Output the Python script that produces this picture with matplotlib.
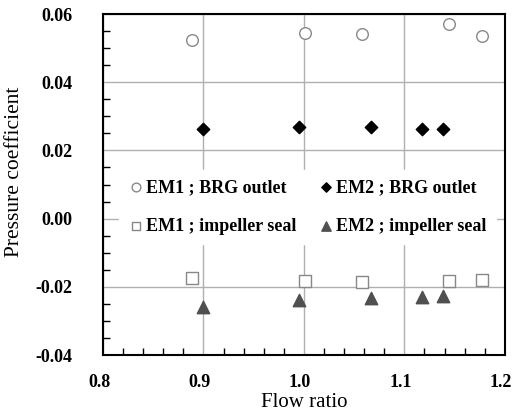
import matplotlib.pyplot as plt
import matplotlib.transforms as mtransforms
import numpy as np
from matplotlib.ticker import MultipleLocator, FuncFormatter

# EM1 ; BRG outlet (open circles)
em1_brg_x = [0.889, 1.001, 1.058, 1.144, 1.177]
em1_brg_y = [0.0525, 0.0545, 0.0541, 0.0571, 0.0535]

# EM2 ; BRG outlet (filled diamonds)
em2_brg_x = [0.900, 0.995, 1.067, 1.118, 1.138]
em2_brg_y = [0.0264, 0.0268, 0.0268, 0.0262, 0.0264]

# EM1 ; impeller seal (open squares)
em1_seal_x = [0.889, 1.001, 1.058, 1.144, 1.177]
em1_seal_y = [-0.0174, -0.0182, -0.0185, -0.0182, -0.0179]

# EM2 ; impeller seal (filled triangles)
em2_seal_x = [0.900, 0.995, 1.067, 1.118, 1.138]
em2_seal_y = [-0.0259, -0.0239, -0.0234, -0.0229, -0.0226]

plt.rcParams["font.family"] = ["Liberation Serif", "DejaVu Serif"]
plt.rcParams["font.weight"] = "bold"

fig = plt.figure(figsize=(5.13, 4.13), dpi=100)
ax = fig.add_axes([0.2008, 0.1404, 0.7832, 0.8256])

h1 = ax.scatter(em1_brg_x, em1_brg_y, marker="o", s=70, facecolors="white",
                edgecolors="#888888", linewidths=1.0, label="EM1 ; BRG outlet", zorder=3)
h2 = ax.scatter(em2_brg_x, em2_brg_y, marker="D", s=40, color="black",
                label="EM2 ; BRG outlet", zorder=3)
h3 = ax.scatter(em1_seal_x, em1_seal_y, marker="s", s=70, facecolors="white",
                edgecolors="#888888", linewidths=1.0, label="EM1 ; impeller seal", zorder=3)
h4 = ax.scatter(em2_seal_x, em2_seal_y, marker="^", s=80, color="#505050",
                label="EM2 ; impeller seal", zorder=3)

ax.set_xlim(0.8, 1.2)
ax.set_ylim(-0.04, 0.06)
ax.xaxis.set_major_locator(MultipleLocator(0.1))
ax.xaxis.set_minor_locator(MultipleLocator(0.02))
ax.yaxis.set_major_locator(MultipleLocator(0.02))
ax.yaxis.set_minor_locator(MultipleLocator(0.005))
ax.xaxis.set_major_formatter(FuncFormatter(lambda v, p: f"{v:.1f}"))
ax.yaxis.set_major_formatter(FuncFormatter(lambda v, p: f"{v:.2f}"))

ax.grid(True, which="major", color="#b0b0b0", linewidth=1.0, zorder=0)
ax.set_axisbelow(True)

ax.tick_params(axis="both", which="both", direction="in", top=False, right=False)
ax.tick_params(axis="y", which="major", length=0, pad=22, labelsize=13)
ax.tick_params(axis="x", which="major", length=0, pad=14, labelsize=13)
ax.tick_params(axis="both", which="minor", length=5, width=1.0)

# x tick labels sit a little left of their ticks in the original
shift = mtransforms.ScaledTranslation(-4 / 100, 0, fig.dpi_scale_trans)
for lab in ax.get_xticklabels():
    lab.set_transform(lab.get_transform() + shift)

for sp in ax.spines.values():
    sp.set_linewidth(1.5)

ax.set_xlabel("Flow ratio", fontsize=15, fontweight="normal")
ax.set_ylabel("Pressure coefficient", fontsize=15.5, fontweight="normal")
ax.xaxis.set_label_coords(0.5, -0.11)
ax.yaxis.set_label_coords(-0.197, 0.537)

# row-wise legend order: EM1 BRG, EM2 BRG / EM1 seal, EM2 seal
leg = ax.legend([h1, h3, h2, h4],
                [h1.get_label(), h3.get_label(), h2.get_label(), h4.get_label()],
                ncol=2, loc="center", bbox_to_anchor=(0.509, 0.434), frameon=True,
                fancybox=False, edgecolor="white", framealpha=1.0,
                prop={"weight": "bold", "size": 13}, handletextpad=0.1,
                columnspacing=1.2, labelspacing=1.2, borderpad=0.5,
                handlelength=0.9, markerscale=0.75)

fig.savefig("out.png", dpi=100)
